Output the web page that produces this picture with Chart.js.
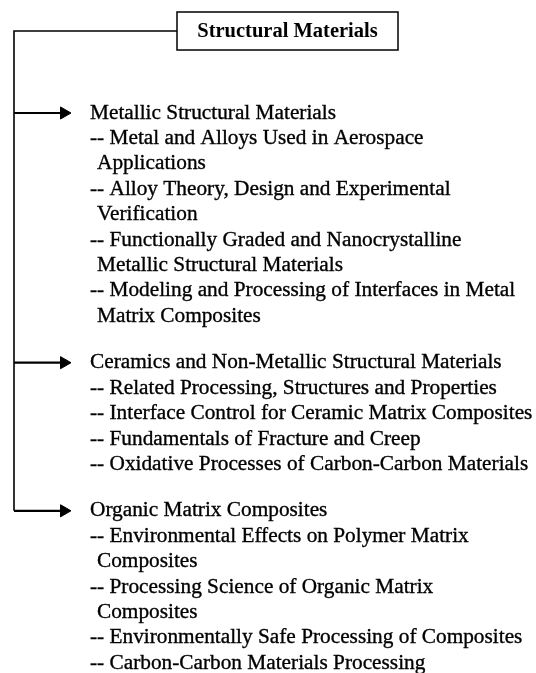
<!DOCTYPE html>
<html>
<head>
<meta charset="utf-8">
<script src="https://cdn.jsdelivr.net/npm/chart.js@4.4.0/dist/chart.umd.min.js"></script>
<style>
    html, body { margin: 0; padding: 0; background: #ffffff; }
    #tree-chart { display: block; }
</style>
</head>
<body>
<canvas id="tree-chart" width="536" height="673"></canvas>
<script>
// Diagram content
const rootTitle = 'Structural Materials';
const groupNames = [
    'Metallic Structural Materials',
    'Ceramics and Non-Metallic Structural Materials',
    'Organic Matrix Composites'
];
// each topic is a list of wrapped lines
const metallicTopics = [
    ['Metal and Alloys Used in Aerospace', 'Applications'],
    ['Alloy Theory, Design and Experimental', 'Verification'],
    ['Functionally Graded and Nanocrystalline', 'Metallic Structural Materials'],
    ['Modeling and Processing of Interfaces in Metal', 'Matrix Composites']
];
const ceramicTopics = [
    ['Related Processing, Structures and Properties'],
    ['Interface Control for Ceramic Matrix Composites'],
    ['Fundamentals of Fracture and Creep'],
    ['Oxidative Processes of Carbon-Carbon Materials']
];
const organicTopics = [
    ['Environmental Effects on Polymer Matrix', 'Composites'],
    ['Processing Science of Organic Matrix', 'Composites'],
    ['Environmentally Safe Processing of Composites'],
    ['Carbon-Carbon Materials Processing']
];
const groupTopics = [metallicTopics, ceramicTopics, organicTopics];

// Layout (pixel units of the hidden scales)
const W = 536, H = 673;
const box = { left: 177, right: 398, top: 12, bottom: 50 };
const trunkX = 14;
const arrowTipX = 71;
const arrowHead = 7;
const textX = 90;
const wrapX = 97;
const firstRowY = 113;
const rowStep = 25.4;
const groupGap = 46.5;
const bodyFont = '21.3px "Liberation Serif", "Times New Roman", serif';
const titleFont = 'bold 20.5px "Liberation Serif", "Times New Roman", serif';

// Build text rows from the lists
const rows = [];
const headingYs = [];
let y = firstRowY;
groupNames.forEach((name, g) => {
    if (g > 0) y += groupGap;
    headingYs.push(y);
    rows.push({ text: name, x: textX, y: y });
    groupTopics[g].forEach(topic => {
        topic.forEach((line, i) => {
            y += rowStep;
            rows.push({ text: i === 0 ? '-- ' + line : line, x: i === 0 ? textX : wrapX, y: y });
        });
    });
});
const titleY = (box.top + box.bottom) / 2;

// Datasets: trunk line plus one arrow per group
const datasets = [{
    label: 'trunk',
    data: [
        { x: box.left, y: titleY },
        { x: trunkX, y: titleY },
        { x: trunkX, y: headingYs[headingYs.length - 1] }
    ],
    showLine: true,
    borderColor: '#000',
    borderWidth: 1.6,
    pointRadius: 0
}];
headingYs.forEach(hy => {
    datasets.push({
        label: 'arrow',
        data: [{ x: trunkX, y: hy }, { x: arrowTipX - arrowHead, y: hy }],
        showLine: true,
        borderColor: '#000',
        borderWidth: 2.2,
        pointStyle: 'triangle',
        rotation: 90,
        pointRadius: [0, arrowHead],
        pointBackgroundColor: '#000',
        pointBorderColor: '#000',
        pointBorderWidth: 1
    });
});

// Draws the title box and all text through the scales
const textPlugin = {
    id: 'treeText',
    afterDatasetsDraw(chart) {
        const { ctx, scales } = chart;
        const sx = v => scales.x.getPixelForValue(v);
        const sy = v => scales.y.getPixelForValue(v);
        ctx.save();
        ctx.fillStyle = '#000';
        ctx.strokeStyle = '#000';
        ctx.lineWidth = 1.5;
        const bx = sx(box.left), by = sy(box.top);
        ctx.strokeRect(bx, by, sx(box.right) - bx, sy(box.bottom) - by);
        ctx.font = titleFont;
        ctx.textAlign = 'center';
        ctx.textBaseline = 'middle';
        ctx.fillText(rootTitle, sx((box.left + box.right) / 2), sy(titleY) + 1);
        // body text, with a hairline stroke so it reads as dark as the scan
        ctx.font = bodyFont;
        ctx.textAlign = 'left';
        ctx.lineWidth = 0.35;
        rows.forEach(r => {
            ctx.fillText(r.text, sx(r.x), sy(r.y));
            ctx.strokeText(r.text, sx(r.x), sy(r.y));
        });
        ctx.restore();
    }
};

new Chart(document.getElementById('tree-chart'), {
    type: 'scatter',
    data: { datasets: datasets },
    options: {
        responsive: false,
        animation: false,
        layout: { padding: 0, autoPadding: false },
        scales: {
            x: { type: 'linear', min: 0, max: W, display: false },
            y: { type: 'linear', min: 0, max: H, reverse: true, display: false }
        },
        plugins: {
            legend: { display: false },
            tooltip: { enabled: false }
        }
    },
    plugins: [textPlugin]
});
</script>
</body>
</html>
